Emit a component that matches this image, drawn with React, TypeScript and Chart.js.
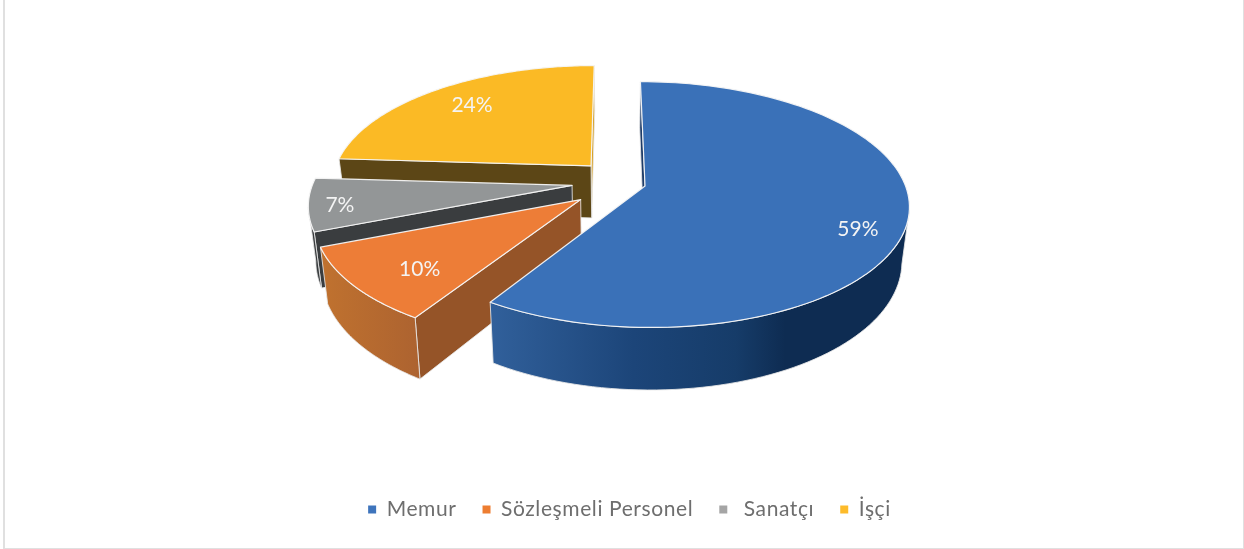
import React, { useEffect, useRef } from "react";
import { Chart, registerables } from "chart.js";

Chart.register(...registerables);

const categories = ["Memur", "Sözleşmeli Personel", " Sanatçı", "İşçi"];
const shares = [59, 10, 7, 24];
const topColors = ["#3A71B8", "#ED7D37", "#939697", "#FBBA25"];
const legendColors = ["#3E74BC", "#ED7D31", "#A5A5A5", "#FDBB2A"];

// perspective model of the pie plane
const CX = 610, CY = 181.35, AX = 259, BY = 118.7, K = 0.15, DEPTH = 52.8, CONTRACT = 0.025, EXPLODE = 0.14;
const nudgeX = [0, -1, -2, 5.5];
const nudgeY = [0, 7.5, 1.5, -3.5];
const labelRadius = [0.838, 0.762, 0.883, 0.779];
const labelTurn = [7.1, -3.5, -0.8, 1.8];
const startCut = ["#1E3C68", "#955428", "#3A3D3F", "#5C4616"];
const endCut = ["#1E3C68", "#955428", "#3A3D3F", "#D9A122"];
const wallStops: [number, string][][] = [
  [[0, "#31609B"], [0.35, "#1C4579"], [0.6, "#163C69"], [0.72, "#0E2C52"], [1, "#0E2C52"]],
  [[0, "#C0722F"], [1, "#AD6330"]],
  [[0, "#3A3D3F"], [1, "#3A3D3F"]],
  [[0, "#5C4616"], [1, "#5C4616"]],
];
const wallSpan = [[490, 900], [320, 418], [310, 330], [340, 600]];

function project(X: number, Y: number, z: number, i: number) {
  const s = 1 / (1 - K * Y);
  return {
    x: CX + AX * X * s * (1 - CONTRACT * z) + nudgeX[i],
    y: CY + BY * Y * s + DEPTH * s * z + nudgeY[i],
  };
}

const pie3d = {
  id: "pie3d",
  beforeUpdate(chart: any) {
    chart.ctx.letterSpacing = "0.6px";
  },
  beforeDraw(chart: any) {
    chart.ctx.letterSpacing = "0.6px";
  },
  beforeDatasetDraw(chart: any) {
    const ctx = chart.ctx as CanvasRenderingContext2D;
    const arcs = chart.getDatasetMeta(0).data as any[];
    const order = [3, 2, 1, 0];
    ctx.save();
    ctx.lineJoin = "round";
    for (const i of order) {
      const a0 = arcs[i].startAngle, a1 = arcs[i].endAngle;
      const mid = (a0 + a1) / 2;
      const ex = Math.cos(mid) * EXPLODE, ey = Math.sin(mid) * EXPLODE;
      const rim = (a: number, z: number) => project(Math.cos(a) + ex, Math.sin(a) + ey, z, i);
      const apex = (z: number) => project(ex, ey, z, i);
      const poly = (pts: { x: number; y: number }[], fill: any, stroke: string, lw: number) => {
        ctx.beginPath();
        pts.forEach((p, n) => (n ? ctx.lineTo(p.x, p.y) : ctx.moveTo(p.x, p.y)));
        ctx.closePath();
        ctx.fillStyle = fill;
        ctx.fill();
        ctx.strokeStyle = stroke;
        ctx.lineWidth = lw;
        ctx.stroke();
      };
      const edge = "rgba(232,232,232,0.85)";
      // side faces are painted only when they turn toward the viewer
      if (apex(0).x < rim(a1, 0).x) poly([apex(0), rim(a1, 0), rim(a1, 1), apex(1)], endCut[i], edge, 1);
      if (rim(a0, 0).x < apex(0).x) poly([apex(0), rim(a0, 0), rim(a0, 1), apex(1)], startCut[i], edge, 1);
      const top: any[] = [], frontTop: any[] = [], frontBottom: any[] = [];
      const N = 120;
      for (let n = 0; n <= N; n++) {
        const a = a0 + ((a1 - a0) * n) / N;
        const p = rim(a, 0);
        top.push(p);
        const q = rim(a + 0.001, 0);
        if (q.x < p.x) {
          frontTop.push(p);
          frontBottom.unshift(rim(a, 1));
        }
      }
      if (frontTop.length > 1) {
        const g = ctx.createLinearGradient(wallSpan[i][0], 0, wallSpan[i][1], 0);
        wallStops[i].forEach(([o, c]) => g.addColorStop(o, c));
        poly([...frontTop, ...frontBottom], g, edge, 1);
      }
      poly([apex(0), ...top], topColors[i], "rgba(245,245,245,0.95)", 1.2);
    }
    ctx.letterSpacing = "0px";
    ctx.font = "21px Lato";
    ctx.fillStyle = "#F4F4F4";
    ctx.textAlign = "center";
    ctx.textBaseline = "middle";
    arcs.forEach((arc, i) => {
      const mid = (arc.startAngle + arc.endAngle) / 2;
      const t = mid + (labelTurn[i] * Math.PI) / 180;
      const p = project(
        Math.cos(mid) * EXPLODE + Math.cos(t) * labelRadius[i],
        Math.sin(mid) * EXPLODE + Math.sin(t) * labelRadius[i],
        0,
        i
      );
      ctx.fillText(shares[i] + "%", p.x, p.y + 1);
    });
    ctx.restore();
    return false;
  },
};

export default function App() {
  const ref = useRef<HTMLCanvasElement>(null);
  useEffect(() => {
    const chart = new Chart(ref.current!, {
      type: "pie",
      data: {
        labels: categories,
        datasets: [{ data: shares, backgroundColor: legendColors, borderWidth: 0 }],
      },
      plugins: [pie3d],
      options: {
        responsive: false,
        animation: false,
        layout: { padding: { left: 15, bottom: 19 } },
        plugins: {
          tooltip: { enabled: false },
          legend: {
            position: "bottom",
            labels: {
              usePointStyle: true,
              pointStyle: "rect",
              boxWidth: 8,
              boxHeight: 8,
              padding: 26,
              color: "#6E6E6E",
              font: { family: "Lato", size: 21 },
            },
          },
        },
      },
    } as any);
    return () => chart.destroy();
  }, []);
  return (
    <div style={{ position: "fixed", left: 0, top: 0, width: 1244, height: 549, background: "#fff", overflow: "hidden" }}>
      <div
        style={{
          position: "absolute",
          left: 3,
          top: -3,
          width: 1238,
          height: 549,
          border: "2px solid #E0E0E0",
          boxSizing: "content-box",
        }}
      />
      <canvas ref={ref} width={1244} height={549} style={{ position: "absolute", left: 0, top: 0 }} />
    </div>
  );
}
